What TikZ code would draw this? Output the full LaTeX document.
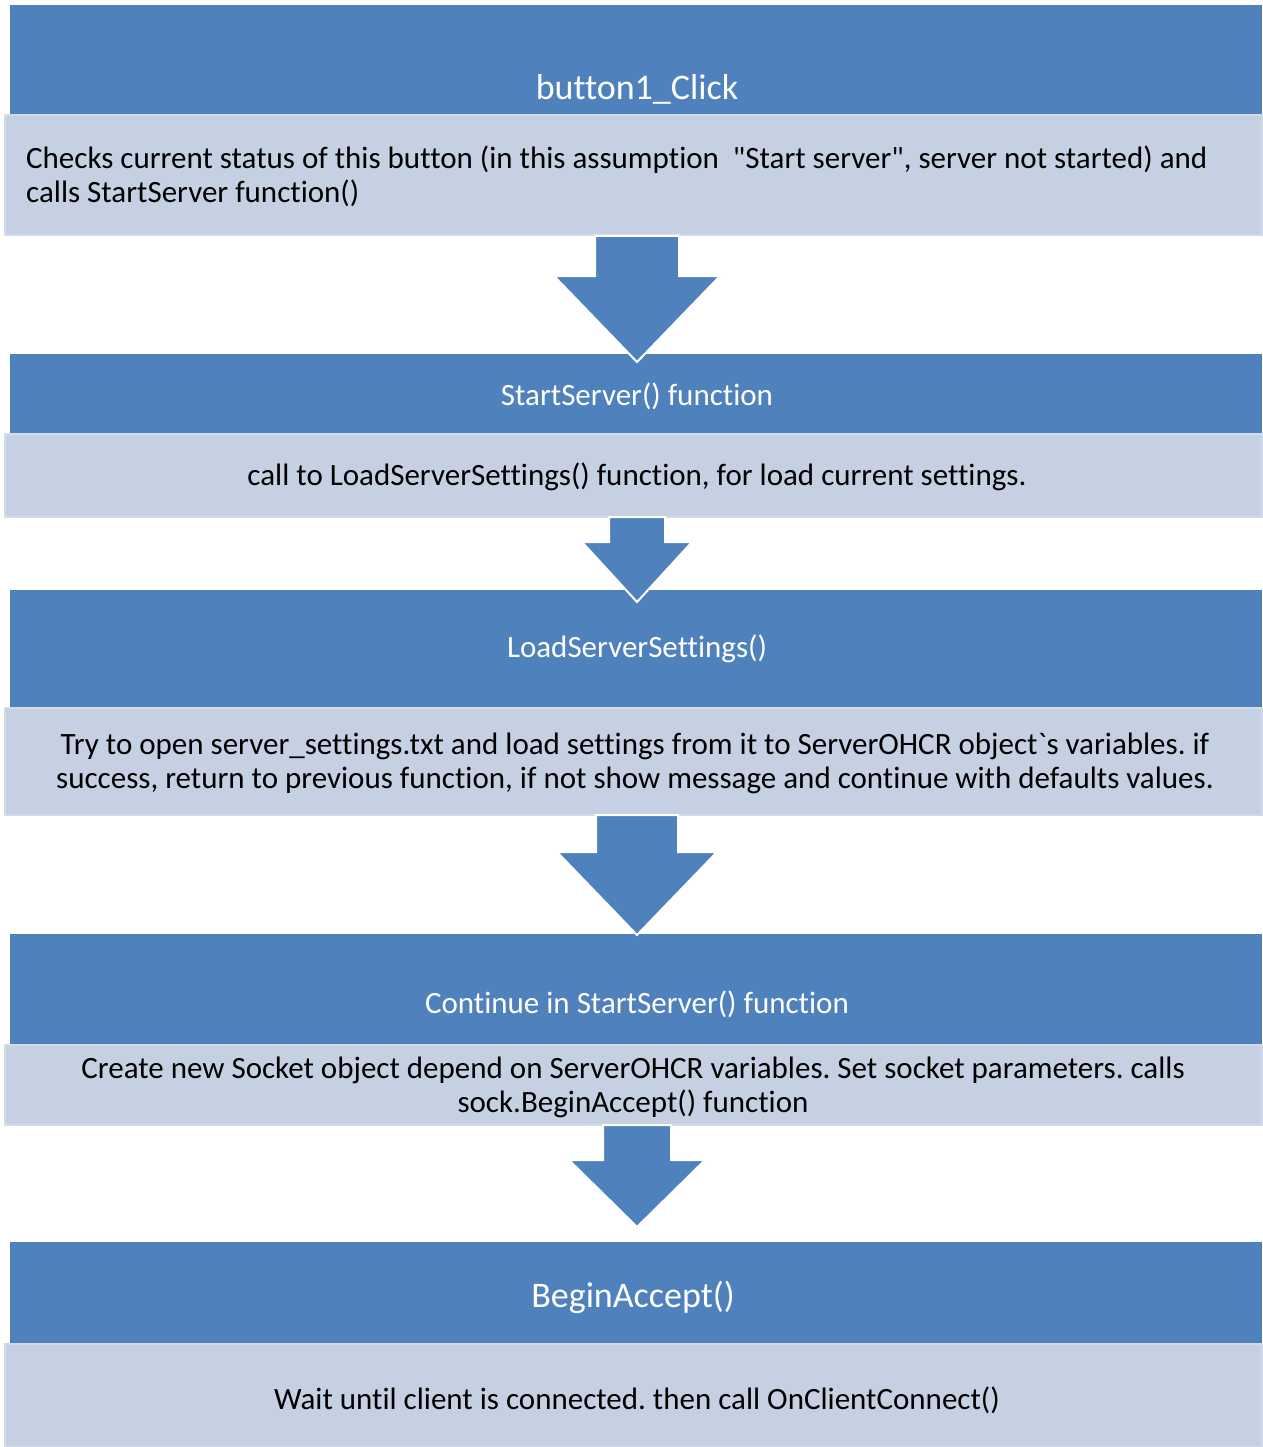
\documentclass[tikz,border=0pt]{standalone}
\usepackage{fontspec}
\setmainfont{Carlito}[Ligatures={TeXOff,NoCommon}]
\frenchspacing
\usetikzlibrary{calc}
\definecolor{hdrblue}{RGB}{79,129,189}
\definecolor{bodyblue}{RGB}{197,209,227}
\definecolor{bodyedge}{RGB}{210,219,234}
\newcommand{\bodyfont}{\fontsize{31}{34}\selectfont}
\newcommand{\titlefont}{\fontsize{31}{34}\selectfont}
\newcommand{\bigtitlefont}{\fontsize{36}{40}\selectfont}
\tikzset{
  header/.style={fill=hdrblue, draw=none},
  bodybox/.style={fill=bodyblue, draw=bodyedge, line width=1.5pt},
  hdrtext/.style={text=white, inner sep=0pt, anchor=center},
  bodytext/.style={text=black, inner sep=0pt, align=center, anchor=center, font=\bodyfont},
  blockarrow/.style={fill=hdrblue, draw=white, line width=2pt, line join=miter},
}
\newcommand{\downarrowshape}[6]{%
  % #1 top anchor, #2 half shaft width, #3 shaft length, #4 half head width, #5 head length, #6 name
  \draw[blockarrow]
    ($(#1)+(-#2,0)$) -- ($(#1)+(#2,0)$) -- ($(#1)+(#2,#3)$) -- ($(#1)+(#4,#3)$)
    -- ($(#1)+(0,#3+#5)$) coordinate (#6)
    -- ($(#1)+(-#4,#3)$) -- ($(#1)+(-#2,#3)$) -- cycle;
}
\begin{document}
\begin{tikzpicture}[x=1pt,y=-1pt]
\useasboundingbox (0,0) rectangle (1262,1447);
\fill[white] (0,0) rectangle (1262,1447);

% block 1
\path[header] (10,5) rectangle (1262,115);
\node[hdrtext, font=\bigtitlefont] (h1) at (637,89) {button1\_Click};
\draw[bodybox] (5,115) rectangle (1262,235);
\coordinate (b1) at (637,236);
\node[text=black, inner sep=0pt, align=left, anchor=west, font=\bodyfont] (t1) at (26,176)
  {Checks current status of this button (in this assumption\ \ \symbol{34}Start server\symbol{34}, server not started) and\\calls StartServer function()};

% block 2
\path[header] (10,354) rectangle (1262,434);
\node[hdrtext, font=\titlefont] (h2) at (637,396) {StartServer() function};
\draw[bodybox] (5,434) rectangle (1262,517);
\coordinate (b2) at (637,517);
\node[bodytext] (t2) at (637,477) {call to LoadServerSettings() function, for load current settings.};

% block 3
\path[header] (10,590) rectangle (1262,708);
\node[hdrtext, font=\titlefont] (h3) at (637,649) {LoadServerSettings()};
\draw[bodybox] (5,708) rectangle (1262,815);
\coordinate (b3) at (637,815);
\node[bodytext] (t3) at (635,763)
  {Try to open server\_settings.txt and load settings from it to ServerOHCR object\symbol{96}s variables. if\\success, return to previous function, if not show message and continue with defaults values.};

% block 4
\path[header] (10,934) rectangle (1262,1045);
\node[hdrtext, font=\titlefont] (h4) at (637,1004) {Continue in StartServer() function};
\draw[bodybox] (5,1045) rectangle (1262,1125);
\coordinate (b4) at (637,1125);
\node[bodytext] (t4) at (633,1087)
  {Create new Socket object depend on ServerOHCR variables. Set socket parameters. calls\\sock.BeginAccept() function};

% block 5
\path[header] (10,1242) rectangle (1262,1344);
\node[hdrtext, font=\bigtitlefont] (h5) at (633,1297) {BeginAccept()};
\draw[bodybox] (5,1344) rectangle (1262,1447);
\node[bodytext] (t5) at (637,1400) {Wait until client is connected. then call OnClientConnect()};

% block arrows between the stages
\downarrowshape{b1}{42}{40}{83}{86}{a1}
\downarrowshape{b2}{28}{25}{55}{60}{a2}
\downarrowshape{b3}{41}{37}{80}{83}{a3}
\downarrowshape{b4}{34}{35}{68}{67}{a4}
\end{tikzpicture}
\end{document}
